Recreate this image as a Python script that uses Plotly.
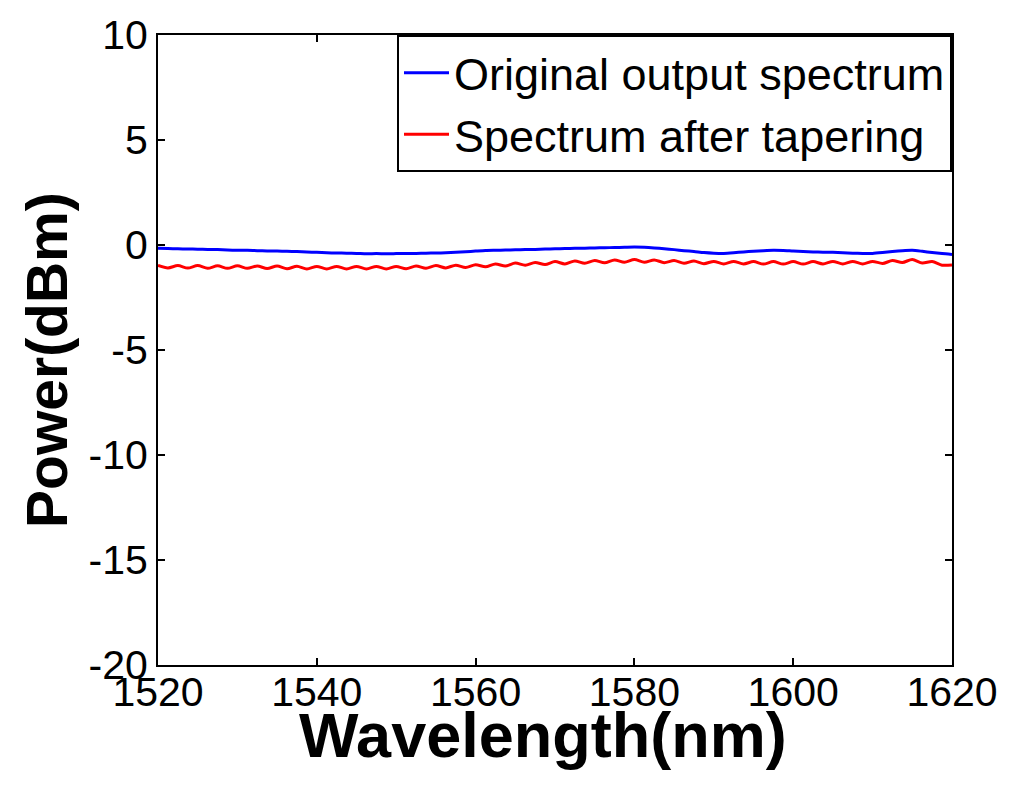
import plotly.graph_objects as go

wavelength = [
    1520.00, 1521.25, 1522.50, 1523.75, 1525.00, 1526.25, 1527.50, 1528.75, 1530.00, 1531.25,
    1532.50, 1533.75, 1535.00, 1536.25, 1537.50, 1538.75, 1540.00, 1541.25, 1542.50, 1543.75,
    1545.00, 1546.25, 1547.50, 1548.75, 1550.00, 1551.25, 1552.50, 1553.75, 1555.00, 1556.25,
    1557.50, 1558.75, 1560.00, 1561.25, 1562.50, 1563.75, 1565.00, 1566.25, 1567.50, 1568.75,
    1570.00, 1571.25, 1572.50, 1573.75, 1575.00, 1576.25, 1577.50, 1578.75, 1580.00, 1581.25,
    1582.50, 1583.75, 1585.00, 1586.25, 1587.50, 1588.75, 1590.00, 1591.25, 1592.50, 1593.75,
    1595.00, 1596.25, 1597.50, 1598.75, 1600.00, 1601.25, 1602.50, 1603.75, 1605.00, 1606.25,
    1607.50, 1608.75, 1610.00, 1611.25, 1612.50, 1613.75, 1615.00, 1616.25, 1617.50, 1618.75,
    1620.00,
]

original_power = [
    -0.16, -0.17, -0.18, -0.19, -0.20, -0.21, -0.22, -0.24, -0.25, -0.25,
    -0.27, -0.28, -0.29, -0.30, -0.31, -0.33, -0.35, -0.37, -0.38, -0.39,
    -0.40, -0.42, -0.41, -0.42, -0.41, -0.40, -0.40, -0.39, -0.38, -0.37,
    -0.35, -0.32, -0.29, -0.26, -0.25, -0.24, -0.23, -0.22, -0.21, -0.19,
    -0.18, -0.17, -0.16, -0.15, -0.14, -0.13, -0.12, -0.11, -0.10, -0.11,
    -0.14, -0.18, -0.22, -0.27, -0.31, -0.36, -0.39, -0.40, -0.37, -0.33,
    -0.30, -0.27, -0.25, -0.26, -0.29, -0.31, -0.33, -0.34, -0.35, -0.37,
    -0.39, -0.40, -0.40, -0.36, -0.31, -0.27, -0.25, -0.30, -0.36, -0.41,
    -0.45,
]

tapered_power = [
    -0.97, -1.09, -0.98, -1.10, -0.98, -1.11, -0.99, -1.11, -0.99, -1.11,
    -1.00, -1.12, -1.00, -1.13, -1.01, -1.14, -1.02, -1.14, -1.02, -1.14,
    -1.02, -1.14, -1.02, -1.14, -1.02, -1.13, -1.00, -1.11, -0.98, -1.09,
    -0.96, -1.07, -0.94, -1.04, -0.90, -1.00, -0.86, -0.96, -0.83, -0.93,
    -0.79, -0.90, -0.76, -0.87, -0.74, -0.85, -0.71, -0.82, -0.69, -0.82,
    -0.71, -0.84, -0.74, -0.87, -0.76, -0.89, -0.78, -0.90, -0.78, -0.90,
    -0.79, -0.91, -0.79, -0.91, -0.79, -0.91, -0.79, -0.90, -0.78, -0.90,
    -0.78, -0.90, -0.78, -0.88, -0.74, -0.83, -0.69, -0.86, -0.79, -0.96,
    -0.95,
]

series_names = ["Original output spectrum", "Spectrum after tapering"]
x_ticks = [1520, 1540, 1560, 1580, 1600, 1620]
y_ticks = [10, 5, 0, -5, -10, -15, -20]
x_title = "Wavelength(nm)"
y_title = "Power(dBm)"

FONT = "Liberation Sans, Arial, sans-serif"

fig = go.Figure()
fig.add_trace(go.Scatter(x=wavelength, y=original_power, mode="lines",
                         name=series_names[0], line=dict(color="#0000ff", width=3, shape="spline", smoothing=0.6)))
fig.add_trace(go.Scatter(x=wavelength, y=tapered_power, mode="lines",
                         name=series_names[1], line=dict(color="#ff0000", width=3, shape="spline", smoothing=0.8)))

axis_common = dict(
    showline=True, linecolor="black", linewidth=2, mirror="ticks",
    ticks="inside", ticklen=7, tickwidth=2, tickcolor="black",
    showgrid=False, zeroline=False, automargin=False,
    tickfont=dict(family=FONT, size=41, color="black"),
)

fig.update_xaxes(range=[1520, 1620], tickvals=x_ticks,
                 ticktext=[str(v) for v in x_ticks], ticklabelstandoff=-10, **axis_common)
fig.update_yaxes(range=[-20, 10], tickvals=y_ticks,
                 ticktext=[str(v) for v in y_ticks], **axis_common)

fig.add_annotation(text="<b>" + x_title + "</b>", xref="paper", yref="paper",
                   x=0.485, y=-0.111, xanchor="center", yanchor="middle",
                   showarrow=False, font=dict(family=FONT, size=63, color="black"))
fig.add_annotation(text="<b>" + y_title + "</b>", xref="paper", yref="paper",
                   x=-0.14, y=0.484, xanchor="center", yanchor="middle", textangle=-90,
                   showarrow=False, font=dict(family=FONT, size=57, color="black"))

fig.update_layout(
    width=1024, height=787,
    margin=dict(l=150, r=80, t=27, b=130),
    paper_bgcolor="white", plot_bgcolor="white",
    font=dict(family=FONT, color="black"),
    showlegend=True,
    legend=dict(
        x=1, y=1, xanchor="right", yanchor="top",
        bgcolor="white", bordercolor="black", borderwidth=2,
        font=dict(family=FONT, size=45, color="black"),
        itemwidth=45, tracegroupgap=0,
    ),
)

fig.write_html("out.html")
